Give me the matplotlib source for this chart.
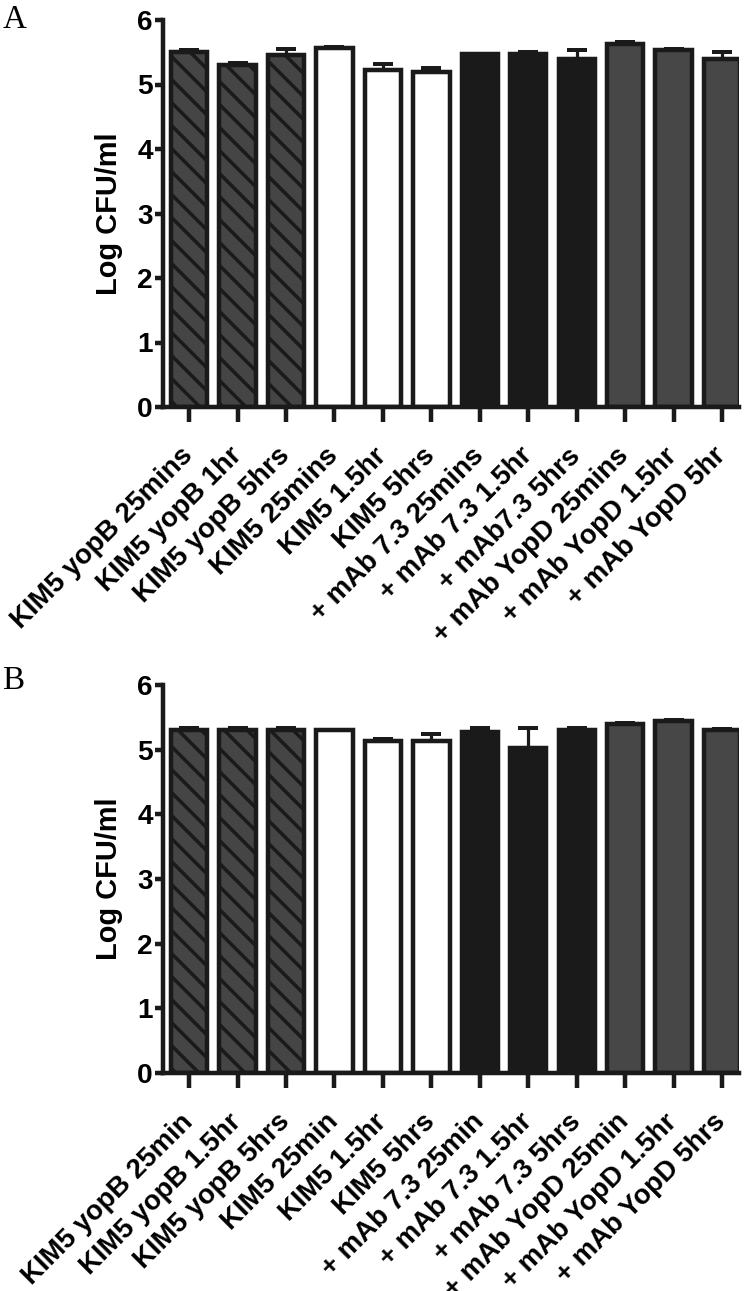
import matplotlib
matplotlib.use("Agg")
import matplotlib.pyplot as plt
import numpy as np

DPI = 138
PT = 72.0 / DPI  # points per pixel

plt.rcParams['font.family'] = ['Liberation Sans', 'DejaVu Sans']
plt.rcParams['hatch.linewidth'] = 3.5 * PT
plt.rcParams['hatch.color'] = '#1a1a1a'

labels_a = ["KIM5 yopB 25mins", "KIM5 yopB 1hr", "KIM5 yopB 5hrs", "KIM5 25mins",
            "KIM5 1.5hr", "KIM5 5hrs", "+ mAb 7.3 25mins", "+ mAb 7.3 1.5hr",
            "+ mAb7.3 5hrs", "+ mAb YopD 25mins", "+ mAb YopD 1.5hr", "+ mAb YopD 5hr"]
values_a = [5.51, 5.31, 5.45, 5.56, 5.23, 5.20, 5.48, 5.47, 5.39, 5.63, 5.53, 5.40]
errors_a = [0.03, 0.02, 0.10, 0.02, 0.09, 0.06, 0.00, 0.04, 0.15, 0.03, 0.02, 0.10]

labels_b = ["KIM5 yopB 25min", "KIM5 yopB 1.5hr", "KIM5 yopB 5hrs", "KIM5 25min",
            "KIM5 1.5hr", "KIM5 5hrs", "+ mAb 7.3 25min", "+ mAb 7.3 1.5hr",
            "+ mAb 7.3 5hrs", "+ mAb YopD 25min", "+ mAb YopD 1.5hr", "+ mAb YopD 5hrs"]
values_b = [5.30, 5.30, 5.31, 5.30, 5.14, 5.13, 5.27, 5.02, 5.30, 5.39, 5.44, 5.30]
errors_b = [0.03, 0.03, 0.03, 0.01, 0.03, 0.12, 0.07, 0.32, 0.03, 0.02, 0.02, 0.02]

edge = '#1a1a1a'
fills = ['#454545'] * 3 + ['#ffffff'] * 3 + ['#1a1a1a'] * 3 + ['#474747'] * 3
hatches = ['\\\\'] * 3 + [''] * 9

fig = plt.figure(figsize=(750 / DPI, 1291 / DPI), dpi=DPI)


def panel(rect, labels, values, errors, letter, letter_y):
    ax = fig.add_axes(rect)
    x = np.arange(len(values))
    ax.errorbar(x, values, yerr=[np.zeros(len(values)), errors], fmt='none',
                ecolor=edge, elinewidth=3.2 * PT, capsize=10 * PT,
                capthick=4 * PT, zorder=1)
    for i in range(len(values)):
        ax.bar(x[i], values[i], width=0.75, color=fills[i], edgecolor=edge,
               linewidth=4.5 * PT, hatch=hatches[i], zorder=2)
    ax.set_ylim(0, 6)
    ax.set_xlim(-0.54, 11.35)
    ax.set_yticks([0, 1, 2, 3, 4, 5, 6])
    ax.set_xticks(x)
    ax.set_xticklabels(labels, rotation=45, ha='right', va='center',
                       rotation_mode='anchor', fontsize=27.5 * PT,
                       fontweight='bold')
    for t in ax.get_yticklabels():
        t.set_fontsize(28 * PT)
        t.set_fontweight('bold')
    ax.spines['top'].set_visible(False)
    ax.spines['right'].set_visible(False)
    for s in ['left', 'bottom']:
        ax.spines[s].set_linewidth(4.5 * PT)
        ax.spines[s].set_color(edge)
    ax.tick_params(axis='y', length=8 * PT, width=4.5 * PT, color=edge,
                   pad=2 * PT)
    ax.tick_params(axis='x', length=15 * PT, width=4.5 * PT, color=edge,
                   pad=30 * PT)
    ax.set_ylabel('Log CFU/ml', fontsize=29 * PT, fontweight='bold',
                  labelpad=14 * PT)
    fig.text(0.004, letter_y, letter, fontsize=33 * PT,
             family='Liberation Serif', va='top', ha='left')
    return ax


panel([163 / 750, 1 - 407 / 1291, 576 / 750, 387 / 1291], labels_a, values_a,
      errors_a, 'A', 1 - 4 / 1291)
panel([163 / 750, 1 - 1073 / 1291, 576 / 750, 388 / 1291], labels_b, values_b,
      errors_b, 'B', 1 - 666 / 1291)

fig.savefig('out.png', dpi=DPI)
